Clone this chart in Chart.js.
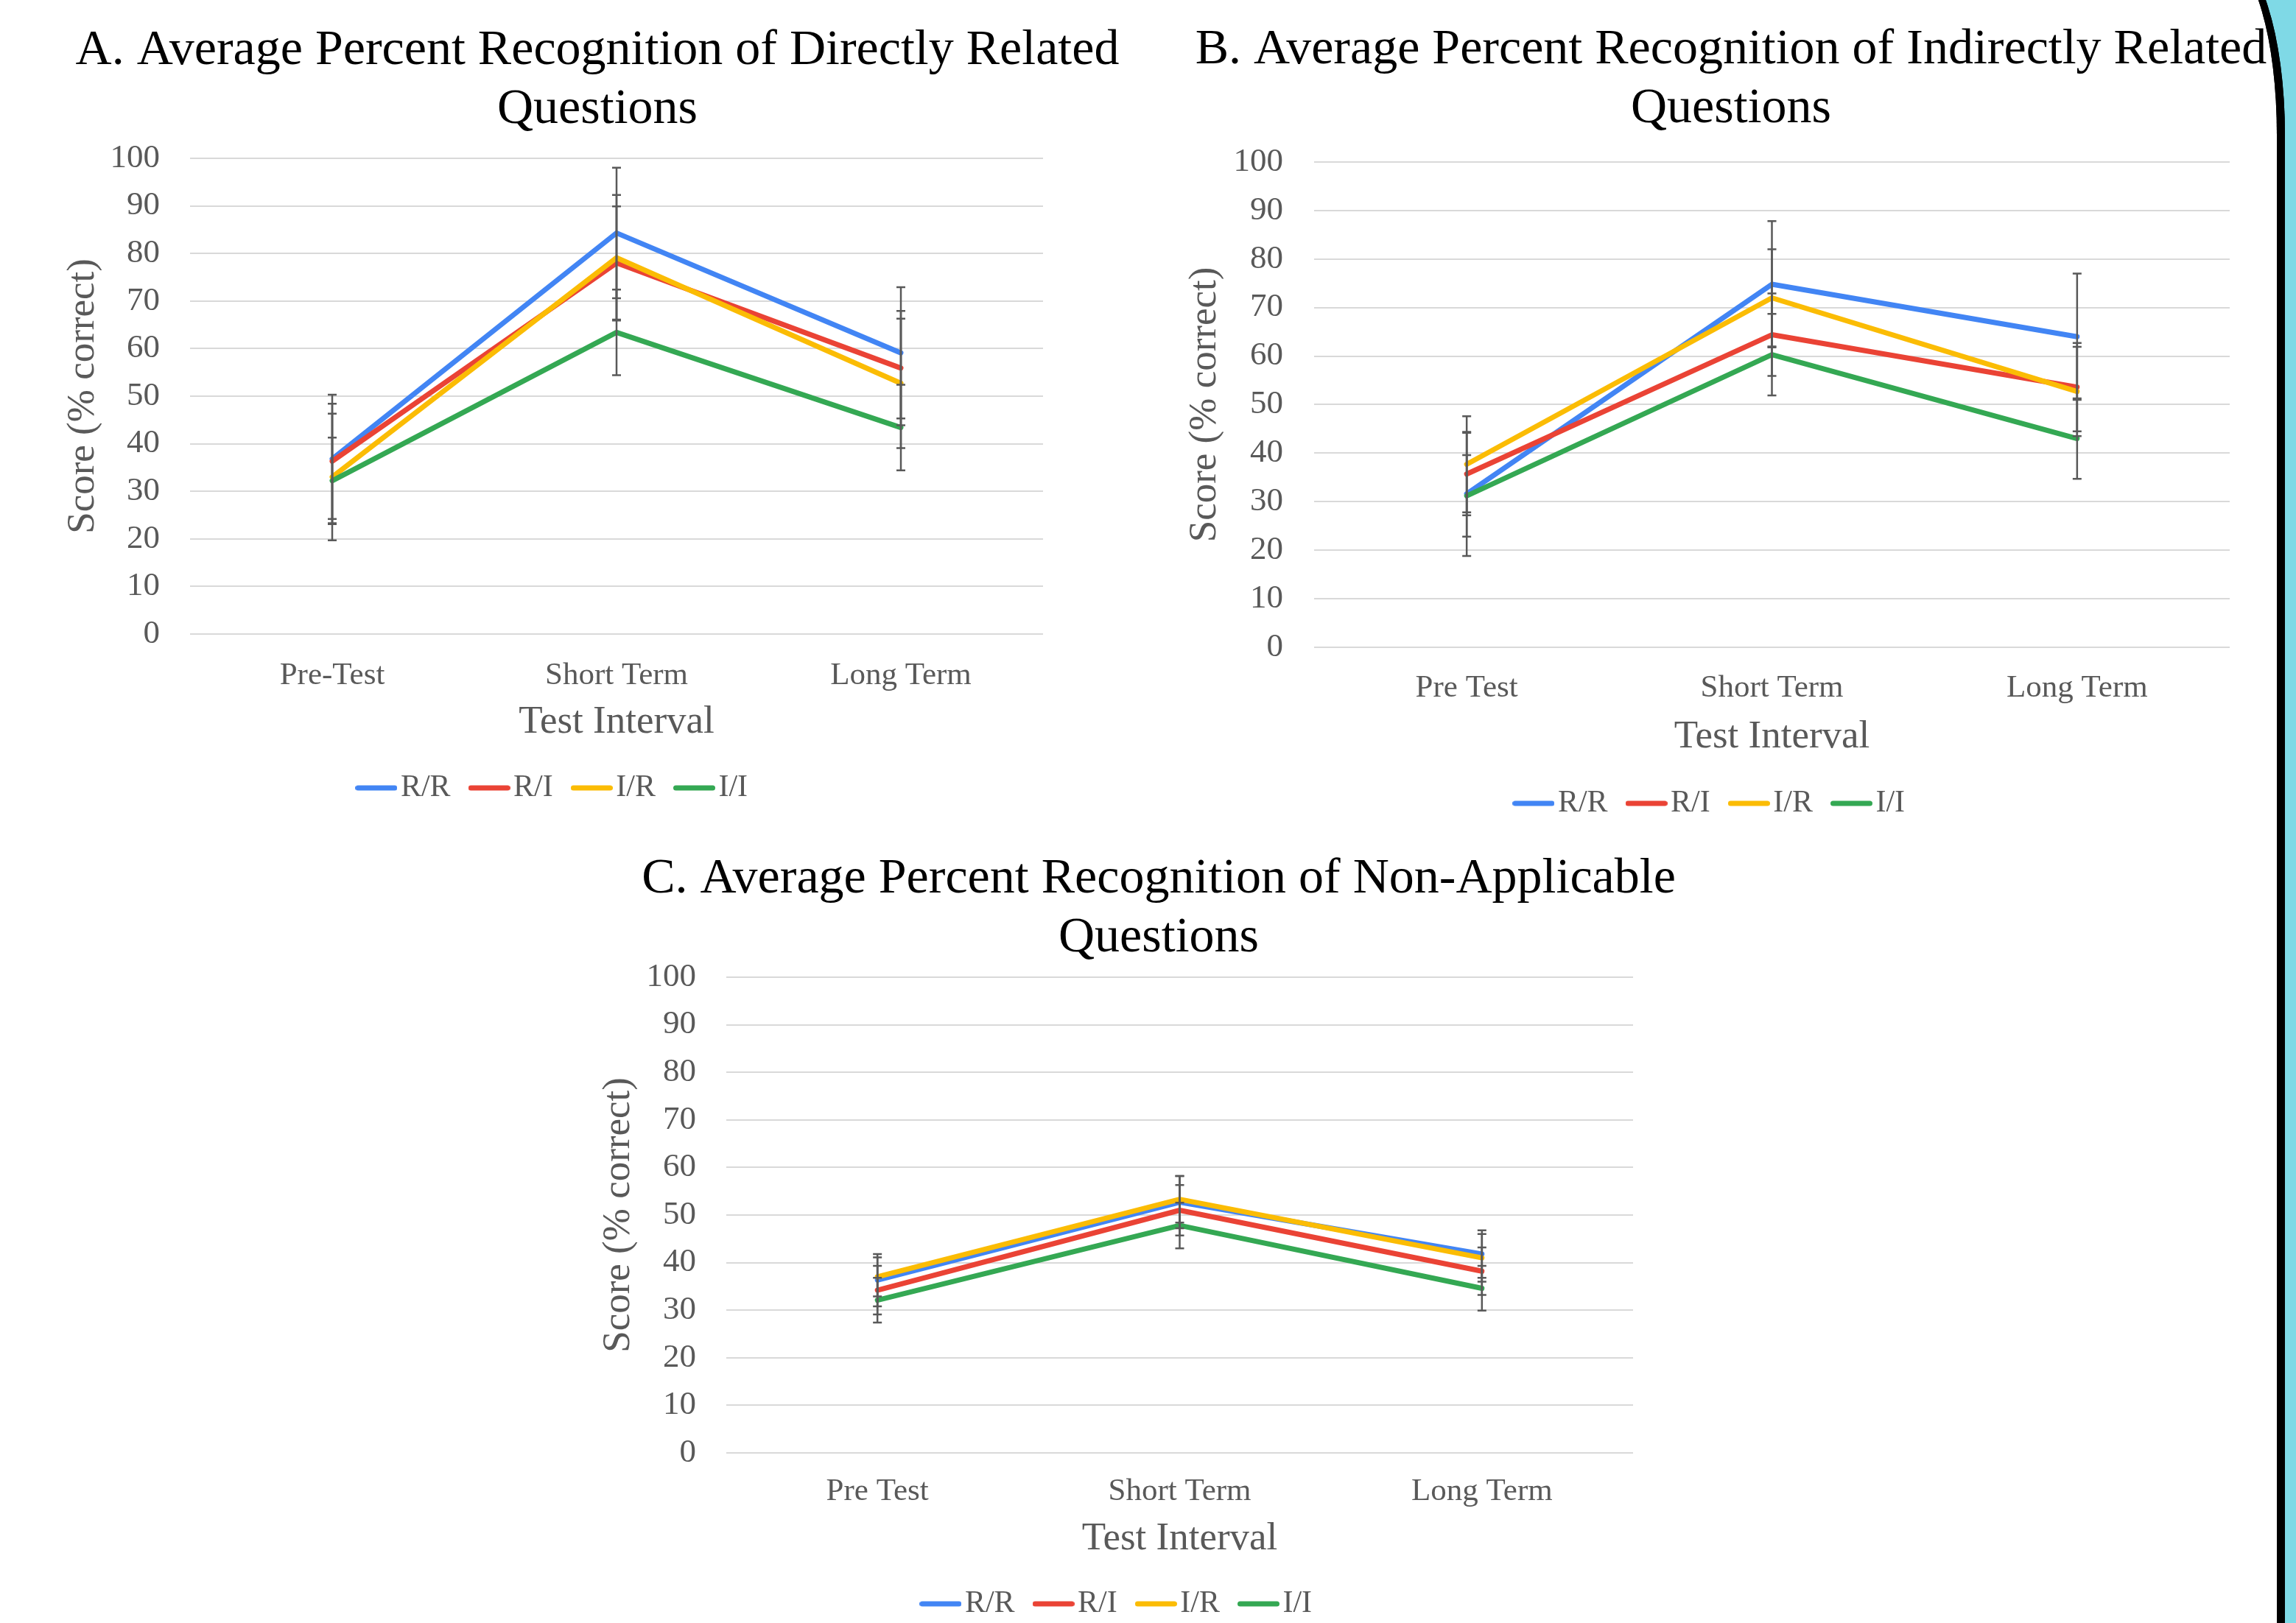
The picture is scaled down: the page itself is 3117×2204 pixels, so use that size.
<!DOCTYPE html>
<html>
<head>
<meta charset="utf-8">
<title>Average Percent Recognition</title>
<script src="https://cdn.jsdelivr.net/npm/chart.js@4.4.1/dist/chart.umd.min.js"></script>
<style>
  html, body { margin: 0; padding: 0; width: 3117px; height: 2204px; overflow: hidden; background: #7fd9e6; }
  canvas { position: absolute; z-index: 2; }
  /* page with rounded top-right corner, teal shows outside it */
  #page { position: absolute; left: -40px; top: -65px; width: 3142px; height: 2400px; background: #fff;
          box-sizing: border-box; border-right: 11px solid #000; border-top: 11px solid #000;
          border-top-right-radius: 80px 248px; z-index: 1; }
  #edge { position: absolute; left: -40px; top: -65px; width: 3142px; height: 2400px; background: transparent;
          box-sizing: border-box; border-right: 11px solid #000; border-top: 11px solid #000;
          border-top-right-radius: 80px 248px; z-index: 3; pointer-events: none; }
</style>
</head>
<body>
<div id="page"></div>
<canvas id="chartA" width="1582" height="1110" style="left:20px;top:0px"></canvas>
<canvas id="chartB" width="1520" height="1130" style="left:1590px;top:0px"></canvas>
<canvas id="chartC" width="1566" height="1082" style="left:790px;top:1130px"></canvas>
<div id="edge"></div>
<script>
// ---- data ----
const seriesNames = ['R/R', 'R/I', 'I/R', 'I/I'];
const seriesColors = ['#4285f4', '#ea4335', '#fbbc04', '#34a853'];
const yTicks = [0, 10, 20, 30, 40, 50, 60, 70, 80, 90, 100];

const categoriesA = ['Pre-Test', 'Short Term', 'Long Term'];
const categoriesB = ['Pre Test', 'Short Term', 'Long Term'];
const categoriesC = ['Pre Test', 'Short Term', 'Long Term'];

// A. directly related
const directRR = [36.8, 84.3, 59.1];
const directRI = [36.3, 78.0, 55.9];
const directIR = [33.0, 79.1, 52.7];
const directII = [32.2, 63.4, 43.4];
const directErrRR = [13.5, 13.7, 13.8];
const directErrRI = [12.1, 11.9, 12.0];
const directErrIR = [13.3, 13.2, 13.6];
const directErrII = [9.1, 9.0, 9.0];

// B. indirectly related
const indirectRR = [31.6, 74.8, 64.0];
const indirectRI = [35.7, 64.4, 53.6];
const indirectIR = [37.7, 72.0, 52.7];
const indirectII = [31.2, 60.3, 43.0];
const indirectErrRR = [12.8, 13.0, 13.0];
const indirectErrRI = [8.5, 8.5, 9.1];
const indirectErrIR = [9.9, 10.0, 9.2];
const indirectErrII = [8.4, 8.4, 8.3];

// C. non-applicable
const nonAppRR = [36.3, 52.7, 41.8];
const nonAppRI = [34.2, 51.0, 38.2];
const nonAppIR = [37.0, 53.3, 41.0];
const nonAppII = [32.1, 47.8, 34.6];
const nonAppErrRR = [5.5, 5.5, 5.0];
const nonAppErrRI = [5.1, 5.3, 5.0];
const nonAppErrIR = [4.1, 4.9, 5.0];
const nonAppErrII = [4.7, 4.8, 4.7];

const FONT = '"Liberation Serif", "Times New Roman", serif';
const GREY = '#595959';
Chart.defaults.font.family = FONT;

// little line swatches for the legend (longer than the legend box, so the text sits close)
function lineSwatch(color) {
  const c = document.createElement('canvas');
  c.width = 57; c.height = 8;
  const g = c.getContext('2d');
  g.strokeStyle = color; g.lineWidth = 7; g.lineCap = 'round';
  g.beginPath(); g.moveTo(3.5, 4); g.lineTo(53.5, 4); g.stroke();
  return c;
}
const swatches = seriesColors.map(lineSwatch);

// vertical error bars with small caps, drawn from the y scale
const errorBars = {
  id: 'errorBars',
  afterDatasetsDraw(chart) {
    const { ctx } = chart;
    const x = chart.scales.x, y = chart.scales.y;
    ctx.save();
    ctx.strokeStyle = GREY;
    ctx.lineWidth = 2.5;
    chart.data.datasets.forEach((ds) => {
      ds.errors.forEach((e, j) => {
        const px = x.getPixelForValue(j);
        const top = y.getPixelForValue(ds.data[j] + e);
        const bot = y.getPixelForValue(ds.data[j] - e);
        ctx.beginPath();
        ctx.moveTo(px, top); ctx.lineTo(px, bot);
        ctx.moveTo(px - 6, top); ctx.lineTo(px + 6, top);
        ctx.moveTo(px - 6, bot); ctx.lineTo(px + 6, bot);
        ctx.stroke();
      });
    });
    ctx.restore();
  }
};

// nudge the legend sideways (it sits left of the title in the original)
const legendShift = {
  id: 'legendShift',
  afterLayout(chart, args, opts) {
    const lg = chart.legend;
    if (!lg || !opts.dx) return;
    lg.left += opts.dx;
    lg.right += opts.dx;
  }
};

function makeChart(id, title, categories, means, errs, lay) {
  const datasets = means.map((m, i) => ({
    label: seriesNames[i],
    data: m,
    errors: errs[i],
    borderColor: seriesColors[i],
    backgroundColor: seriesColors[i],
    borderWidth: 7,
    pointRadius: 0,
    tension: 0,
    borderCapStyle: 'round',
    borderJoinStyle: 'round',
    order: 3 - i
  }));
  return new Chart(document.getElementById(id), {
    type: 'line',
    data: { labels: categories, datasets },
    plugins: [errorBars, legendShift],
    options: {
      responsive: false,
      animation: false,
      devicePixelRatio: 1,
      layout: { padding: { left: 0, top: 0, right: 0, bottom: lay.padBottom } },
      plugins: {
        tooltip: { enabled: false },
        legendShift: { dx: lay.legendDx },
        title: {
          display: true,
          text: title,
          color: '#000',
          font: { size: 68, weight: 'normal', lineHeight: 1.176 },
          padding: { top: lay.titleTop, bottom: lay.titleBottom }
        },
        legend: {
          position: 'bottom',
          labels: {
            color: GREY,
            font: { size: 42 },
            usePointStyle: true,
            pointStyleWidth: 24,
            boxWidth: 24,
            boxHeight: 7,
            padding: 40.5,
            sort: (a, b) => a.datasetIndex - b.datasetIndex,
            generateLabels(chart) {
              return Chart.defaults.plugins.legend.labels.generateLabels(chart)
                .map(l => Object.assign(l, { lineWidth: 0, pointStyle: swatches[l.datasetIndex] }));
            }
          }
        }
      },
      scales: {
        x: {
          offset: true,
          grid: { display: false },
          border: { display: false },
          ticks: { color: GREY, font: { size: 43 }, padding: lay.xTickPad, maxRotation: 0 },
          title: { display: true, text: 'Test Interval', color: GREY, font: { size: 53 },
                   padding: { top: 0, bottom: lay.xTitlePad } },
          afterFit(s) { s.height = lay.xHeight; }
        },
        y: {
          min: 0,
          max: 100,
          afterBuildTicks(s) { s.ticks = yTicks.map(v => ({ value: v })); },
          grid: { color: '#d9d9d9', lineWidth: 2, drawTicks: false },
          border: { display: false },
          ticks: { color: GREY, font: { size: 45 }, padding: lay.yTickPad },
          title: { display: true, text: 'Score (% correct)', color: GREY, font: { size: 53 },
                   padding: { top: lay.yTitlePad, bottom: 0 } },
          afterFit(s) { s.width = lay.yWidth; }
        },
        // empty right-hand axis: keeps the plot narrower than the title/legend band
        yRight: {
          type: 'linear',
          position: 'right',
          grid: { display: false, drawTicks: false },
          border: { display: false },
          ticks: { display: false },
          afterFit(s) { s.width = lay.padRight; }
        }
      }
    }
  });
}

makeChart('chartA',
  ['A. Average Percent Recognition of Directly Related', 'Questions'],
  categoriesA,
  [directRR, directRI, directIR, directII],
  [directErrRR, directErrRI, directErrIR, directErrII],
  { padRight: 186, padBottom: 9, titleTop: 29, titleBottom: 26, yWidth: 238, yTickPad: 41,
    yTitlePad: 61, xHeight: 147.5, xTickPad: 23, xTitlePad: -4, legendDx: -54 });

makeChart('chartB',
  ['B. Average Percent Recognition of Indirectly Related', 'Questions'],
  categoriesB,
  [indirectRR, indirectRI, indirectIR, indirectII],
  [indirectErrRR, indirectErrRI, indirectErrIR, indirectErrII],
  { padRight: 83, padBottom: 8, titleTop: 28, titleBottom: 32, yWidth: 194, yTickPad: 42,
    yTitlePad: 14, xHeight: 150.5, xTickPad: 22, xTitlePad: -3, legendDx: -22 });

makeChart('chartC',
  ['C. Average Percent Recognition of Non-Applicable', 'Questions'],
  categoriesC,
  [nonAppRR, nonAppRI, nonAppIR, nonAppII],
  [nonAppErrRR, nonAppErrRI, nonAppErrIR, nonAppErrII],
  { padRight: 139, padBottom: 3, titleTop: 24, titleBottom: 13, yWidth: 196, yTickPad: 41,
    yTitlePad: 18, xHeight: 143.5, xTickPad: 19, xTitlePad: -5, legendDx: -50 });
</script>
</body>
</html>
